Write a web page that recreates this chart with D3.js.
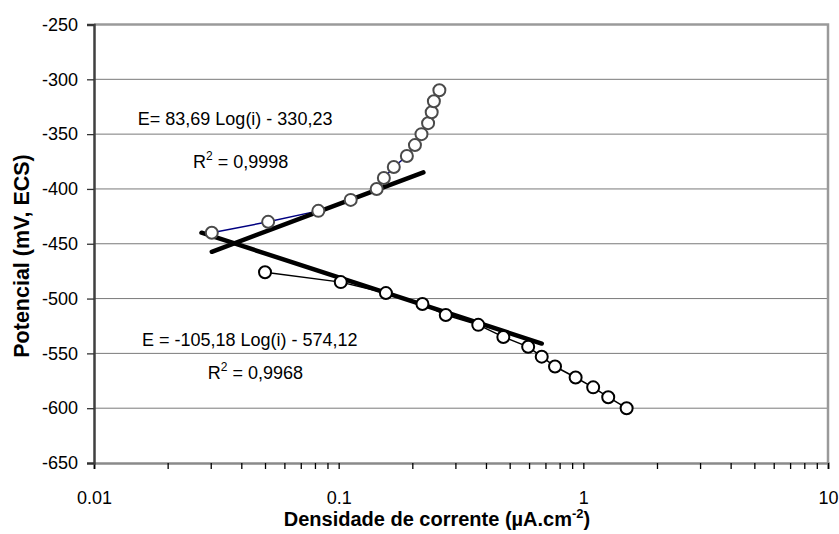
<!DOCTYPE html>
<html><head><meta charset="utf-8">
<script src="https://cdn.jsdelivr.net/npm/d3@7"></script>
<style>
html,body{margin:0;padding:0;background:#fff;}
svg text{font-family:'Liberation Sans',Arial,sans-serif;fill:#000;}
</style></head><body>
<svg id="chart" width="839" height="534"></svg>
<script>
// Anodic polarization branch: current density (µA/cm²) and potential (mV vs ECS)
const anodicI = [0.0303, 0.0515, 0.0826, 0.112, 0.143, 0.153, 0.168, 0.190, 0.205, 0.218, 0.232, 0.240, 0.245, 0.258];
const anodicE = [-440, -430, -420, -410, -400, -390, -380, -370, -360, -350, -340, -330, -320, -310];

// Cathodic polarization branch
const cathodicI = [0.050, 0.102, 0.156, 0.220, 0.274, 0.372, 0.471, 0.595, 0.676, 0.766, 0.930, 1.097, 1.264, 1.503];
const cathodicE = [-476, -485, -495, -505, -515, -524, -535, -544, -553, -562, -572, -581, -590, -600];

// Tafel fit lines: E = slope * log10(i) + intercept, drawn between iFrom and iTo
const fitSlope = [83.69, -72.7];
const fitIntercept = [-330.23, -553.4];
const fitFrom = [0.0303, 0.0275];
const fitTo = [0.222, 0.676];
const fitEquation = ["E= 83,69 Log(i) - 330,23", "E = -105,18 Log(i) - 574,12"];
const fitR2 = ["0,9998", "0,9968"];

// Axis ticks
const yTicks = [-250, -300, -350, -400, -450, -500, -550, -600, -650];
const xMajor = [0.01, 0.1, 1, 10];
const xTickLabels = ["0.01", "0.1", "1", "10"];

const svg = d3.select("#chart");
const L = 94, R = 828, T = 24.5, B = 463;

const x = d3.scaleLog().domain([0.01, 10]).range([L, R]);
const y = d3.scaleLinear().domain([-650, -250]).range([B, T]);

// horizontal gridlines
svg.append("g").selectAll("line").data(yTicks.slice(1, -1)).join("line")
  .attr("x1", L).attr("x2", R)
  .attr("y1", d => y(d)).attr("y2", d => y(d))
  .attr("stroke", "#7a7a7a").attr("stroke-width", 1);

// plot frame (top and right)
svg.append("path")
  .attr("d", `M${L},${T}H${R}V${B}`)
  .attr("fill", "none").attr("stroke", "#9a9a9a").attr("stroke-width", 2.5);

// x axis with minor ticks on each decade
const allX = [];
for (let d = 0; d < 3; d++) for (let k = 1; k < 10; k++) allX.push(k * xMajor[d]);
allX.push(10);
const xAxis = d3.axisBottom(x).tickValues(allX).tickSize(6).tickPadding(22)
  .tickFormat(d => { const i = xMajor.findIndex(m => Math.abs(m - d) < 1e-9); return i >= 0 ? xTickLabels[i] : ""; });
const gx = svg.append("g").attr("transform", `translate(0,${B})`).call(xAxis);
gx.select(".domain").attr("stroke", "#8a8a8a").attr("stroke-width", 2.5);
gx.selectAll(".tick line").attr("stroke", "#000").attr("stroke-width", 1.3);
gx.selectAll(".tick text").attr("font-size", 18).attr("font-family", null);

const yAxis = d3.axisLeft(y).tickValues(yTicks).tickSize(7).tickPadding(9).tickFormat(d => d);
const gy = svg.append("g").attr("transform", `translate(${L},0)`).call(yAxis);
gy.select(".domain").attr("stroke", "#404040").attr("stroke-width", 2.5);
gy.selectAll(".tick line").attr("stroke", "#333").attr("stroke-width", 1.3);
gy.selectAll(".tick text").attr("font-size", 18).attr("font-family", null);

// axis titles
const xt = svg.append("text").attr("x", (L + R) / 2 - 24).attr("y", 526)
  .attr("text-anchor", "middle").attr("font-size", 20).attr("font-weight", "bold");
xt.append("tspan").text("Densidade de corrente (µA.cm");
xt.append("tspan").attr("dy", -8).attr("font-size", 13).text("-2");
xt.append("tspan").attr("dy", 8).text(")");

svg.append("text").attr("transform", "translate(29,256) rotate(-90)")
  .attr("text-anchor", "middle").attr("font-size", 21.5).attr("font-weight", "bold")
  .text("Potencial (mV, ECS)");

// data series
const line = d3.line().x(d => x(d[0])).y(d => y(d[1]));
const anodic = anodicI.map((v, i) => [v, anodicE[i]]);
const cathodic = cathodicI.map((v, i) => [v, cathodicE[i]]);

svg.append("path").datum(anodic).attr("d", line)
  .attr("fill", "none").attr("stroke", "#000080").attr("stroke-width", 1.5);
svg.append("path").datum(cathodic).attr("d", line)
  .attr("fill", "none").attr("stroke", "#000").attr("stroke-width", 1.5);

// Tafel lines
fitSlope.forEach((s, k) => {
  const ends = [fitFrom[k], fitTo[k]].map(i => [i, s * Math.log10(i) + fitIntercept[k]]);
  svg.append("path").datum(ends).attr("d", line)
    .attr("fill", "none").attr("stroke", "#000").attr("stroke-width", 4.5).attr("stroke-linecap", "round");
});

svg.append("g").selectAll("circle").data(anodic).join("circle")
  .attr("cx", d => x(d[0])).attr("cy", d => y(d[1])).attr("r", 6)
  .attr("fill", "#fff").attr("stroke", "#4a4a4a").attr("stroke-width", 2);
svg.append("g").selectAll("circle").data(cathodic).join("circle")
  .attr("cx", d => x(d[0])).attr("cy", d => y(d[1])).attr("r", 6)
  .attr("fill", "#fff").attr("stroke", "#000").attr("stroke-width", 2);

// fit annotations (placed in data coordinates)
const eqPos = [[0.0151, -342], [0.0157, -543]];
const r2Pos = [[0.0254, -381], [0.0292, -573]];
fitEquation.forEach((t, k) => {
  svg.append("text").attr("x", x(eqPos[k][0])).attr("y", y(eqPos[k][1]))
    .attr("font-size", 18).text(t);
  const r = svg.append("text").attr("x", x(r2Pos[k][0])).attr("y", y(r2Pos[k][1])).attr("font-size", 18);
  r.append("tspan").text("R");
  r.append("tspan").attr("dy", -8).attr("font-size", 12).text("2");
  r.append("tspan").attr("dy", 8).text(" = " + fitR2[k]);
});
</script>
</body></html>
